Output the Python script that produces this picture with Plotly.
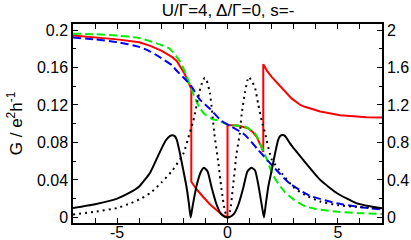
import plotly.graph_objects as go

# ---- data (left-axis units for G curves, right-axis units for black curves) ----
red_x = [-7, -6, -5, -4, -3.5, -3, -2.5, -2.3, -2.1, -1.94, -1.8, -1.64,
         -1.64, -1.4, -1.11, -0.8, -0.5, -0.25, 0,
         0, 0.48, 0.94, 1.15, 1.32, 1.5, 1.62,
         1.62, 1.8, 2.0, 2.3, 2.6, 2.9, 3.3, 3.5, 4.2, 5.1, 6.3, 7]
red_y = [0.194, 0.192, 0.190, 0.187, 0.183, 0.178, 0.171, 0.167, 0.160, 0.153, 0.146, 0.137,
         0.038, 0.030, 0.022, 0.014, 0.0078, 0.003, 0.0,
         0.0985, 0.098, 0.095, 0.091, 0.086, 0.077, 0.070,
         0.1635, 0.156, 0.150, 0.142, 0.134, 0.127, 0.120, 0.118, 0.113, 0.109, 0.107, 0.1067]

green_x = [-7, -6, -5, -4, -3.5, -3, -2.62, -2.17, -1.94, -1.71, -1.49, -1.26, -1.03, -0.7, -0.35,
           0, 0.4, 0.79, 1.0, 1.24, 1.4, 1.55, 1.85, 2.0, 2.3, 2.6, 3.0, 3.5, 4, 5, 6, 7]
green_y = [0.196, 0.1955, 0.194, 0.1915, 0.188, 0.184, 0.180, 0.167, 0.156, 0.142, 0.128, 0.117, 0.110, 0.105, 0.103,
           0.099, 0.098, 0.097, 0.094, 0.090, 0.083, 0.075, 0.058, 0.048, 0.036, 0.027, 0.019, 0.012, 0.009, 0.006, 0.0045, 0.0035]

blue_x = [-7, -6, -5, -4, -3.5, -3, -2.5, -2.32, -1.86, -1.64, -1.26, -0.8, -0.27,
          0.1, 0.79, 1.39, 2.0, 2.6, 2.83, 3.5, 3.74, 4.95, 6, 7]
blue_y = [0.192, 0.190, 0.187, 0.182, 0.177, 0.170, 0.162, 0.157, 0.146, 0.140, 0.126, 0.116, 0.103,
          0.098, 0.088, 0.072, 0.056, 0.041, 0.036, 0.026, 0.023, 0.015, 0.011, 0.0085]

black_x = [-7, -6, -5, -4.5, -4, -3.5, -3.1, -2.8, -2.6, -2.5, -2.4, -2.3, -2.17, -2.0, -1.86, -1.75, -1.67,
           -1.58, -1.41, -1.2, -1.06, -0.9, -0.73, -0.5, -0.3, -0.12, 0,
           0.12, 0.3, 0.5, 0.73, 0.9, 1.08, 1.25, 1.41, 1.56, 1.65,
           1.74, 1.85, 2.0, 2.17, 2.3, 2.4, 2.48, 2.6, 2.83, 3.06, 3.44, 4.2, 4.95, 5.86, 7]
black_y = [0.099, 0.14, 0.20, 0.255, 0.33, 0.48, 0.68, 0.82, 0.87, 0.877, 0.87, 0.83, 0.70, 0.50, 0.33, 0.15, 0.0,
           0.12, 0.33, 0.49, 0.53, 0.49, 0.33, 0.14, 0.04, 0.005, 0.0,
           0.005, 0.04, 0.14, 0.33, 0.49, 0.53, 0.50, 0.33, 0.12, 0.0,
           0.15, 0.33, 0.50, 0.70, 0.83, 0.87, 0.878, 0.87, 0.79, 0.72, 0.61, 0.40, 0.26, 0.15, 0.096]

dot_x = [-7, -6, -5, -4.4, -4, -3.5, -3, -2.5, -2.0, -1.7, -1.55, -1.26, -1.12, -1.03, -0.94, -0.8, -0.7, -0.6,
         -0.43, -0.27, -0.12, 0,
         0.12, 0.25, 0.41, 0.56, 0.64, 0.79, 0.9, 0.97, 1.06, 1.24, 1.39, 1.55, 1.7,
         2.0, 2.5, 3.0, 3.5, 4.2, 5, 6, 7]
dot_y = [0.03, 0.06, 0.10, 0.15, 0.19, 0.26, 0.37, 0.50, 0.68, 0.91, 1.03, 1.35, 1.46, 1.49, 1.46, 1.33, 1.14, 0.90,
         0.61, 0.30, 0.07, 0.0,
         0.07, 0.33, 0.68, 0.90, 1.10, 1.33, 1.46, 1.50, 1.47, 1.39, 1.21, 1.03, 0.90,
         0.62, 0.46, 0.32, 0.24, 0.17, 0.13, 0.11, 0.096]

title_text = "U/\u0393=4, \u0394/\u0393=0, s=-"
x_ticks = [-5, 0, 5]
x_labels = ["-5", "0", "5"]
yl_ticks = [0, 0.04, 0.08, 0.12, 0.16, 0.2]
yl_labels = ["0", "0.04", "0.08", "0.12", "0.16", "0.2"]
yr_ticks = [0, 0.4, 0.8, 1.2, 1.6, 2]
yr_labels = ["0", "0.4", "0.8", "1.2", "1.6", "2"]

FONT = "Liberation Sans, Arial, sans-serif"

fig = go.Figure()
fig.add_trace(go.Scatter(x=black_x, y=black_y, yaxis="y2", mode="lines",
                         line=dict(color="black", width=2, shape="spline", smoothing=0.5)))
fig.add_trace(go.Scatter(x=dot_x, y=dot_y, yaxis="y2", mode="lines",
                         line=dict(color="black", width=2, dash="2px,4px", shape="spline", smoothing=0.5)))
fig.add_trace(go.Scatter(x=red_x, y=red_y, mode="lines",
                         line=dict(color="#ff0000", width=2)))
fig.add_trace(go.Scatter(x=green_x, y=green_y, mode="lines",
                         line=dict(color="#00ee00", width=2, dash="8px,4px", shape="spline", smoothing=0.6)))
fig.add_trace(go.Scatter(x=blue_x, y=blue_y, mode="lines",
                         line=dict(color="#0000ff", width=2, dash="8px,4px", shape="spline", smoothing=0.6)))

axis_common = dict(showline=True, linecolor="black", linewidth=1.5, ticks="inside",
                   tickcolor="black", showgrid=False, zeroline=False, automargin=False,
                   tickfont=dict(family=FONT, size=16, color="black"))

fig.update_layout(
    width=411, height=240,
    margin=dict(l=73, r=29, t=24, b=17),
    paper_bgcolor="white", plot_bgcolor="white",
    showlegend=False,
    title=dict(text=title_text, x=0.555, xanchor="center", y=0.985, yanchor="top",
               font=dict(family=FONT, size=17, color="black")),
    xaxis=dict(range=[-7, 7], tickvals=x_ticks, ticktext=x_labels, ticklen=5, mirror="allticks",
               ticklabelstandoff=-6,
               minor=dict(dtick=1, ticklen=3, ticks="inside", tickcolor="black"),
               **axis_common),
    yaxis=dict(range=[-0.006, 0.2064], tickvals=yl_ticks, ticktext=yl_labels, ticklen=5, mirror=True,
               minor=dict(dtick=0.02, ticklen=3, ticks="inside", tickcolor="black"),
               title=dict(text="G / e<sup>2</sup>h<sup>-1</sup>", standoff=10,
                          font=dict(family=FONT, size=17, color="black")),
               **axis_common),
    yaxis2=dict(range=[-0.06, 2.064], tickvals=yr_ticks, ticktext=yr_labels, ticklen=5,
                overlaying="y", side="right",
                minor=dict(dtick=0.2, ticklen=3, ticks="inside", tickcolor="black"),
                **axis_common),
)

fig.write_html("out.html", config={"displayModeBar": False},
               post_script="document.body.style.margin='0px';")
